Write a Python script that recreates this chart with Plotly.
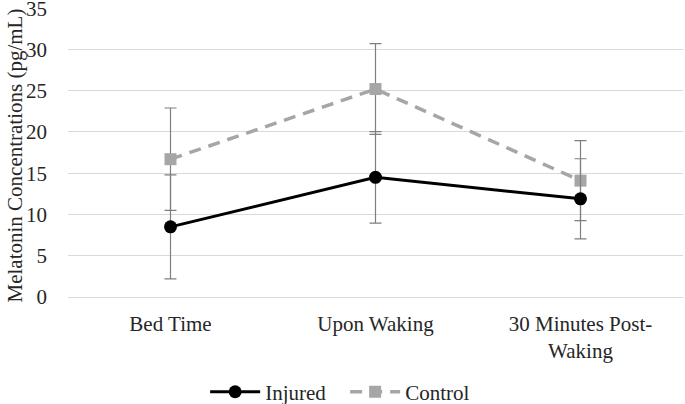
import plotly.graph_objects as go

categories = ["Bed Time", "Upon Waking", "30 Minutes Post-<br>Waking"]
injured = [8.5, 14.5, 11.9]
injured_err = [6.3, 5.55, 4.85]
control = [16.7, 25.2, 14.1]
control_err = [6.2, 5.5, 4.85]
y_ticks = [0, 5, 10, 15, 20, 25, 30, 35]
y_title = "Melatonin Concentrations (pg/mL)"

font_family = "Liberation Serif, Times New Roman, serif"
text_color = "#262626"

fig = go.Figure()
fig.add_trace(go.Scatter(
    x=categories, y=control, name="Control", mode="lines+markers",
    line=dict(color="#A6A6A6", width=3.5, dash="12px,8px"),
    marker=dict(symbol="square", size=12, color="#A6A6A6"),
    error_y=dict(type="data", array=control_err, visible=True,
                 color="#7F7F7F", thickness=1.2, width=6),
    legendrank=2,
))
fig.add_trace(go.Scatter(
    x=categories, y=injured, name="Injured", mode="lines+markers",
    line=dict(color="#000000", width=3),
    marker=dict(symbol="circle", size=13, color="#000000"),
    error_y=dict(type="data", array=injured_err, visible=True,
                 color="#7F7F7F", thickness=1.2, width=6),
    legendrank=1,
))

fig.add_annotation(
    text=y_title, textangle=-90, xref="paper", yref="paper",
    x=-0.086, y=0.49, xanchor="center", yanchor="middle", showarrow=False,
    font=dict(size=21, color=text_color, family=font_family),
)

fig.update_layout(
    width=685, height=404,
    margin=dict(l=68, r=2, t=8, b=107, autoexpand=False),
    paper_bgcolor="white", plot_bgcolor="white",
    font=dict(family=font_family, size=21, color=text_color),
    xaxis=dict(type="category", range=[-0.5, 2.5], showgrid=False,
               showline=False, ticks="", automargin=False,
               ticklabelstandoff=12,
               tickfont=dict(size=21, color=text_color)),
    yaxis=dict(range=[0, 35.02], tickvals=y_ticks, showgrid=True,
               gridcolor="#D9D9D9", gridwidth=1, zeroline=True,
               zerolinecolor="#D9D9D9", zerolinewidth=1, showline=False,
               ticks="", ticklabelstandoff=20, automargin=False,
               ticklabeloverflow="allow",
               tickfont=dict(size=21, color=text_color)),
    legend=dict(orientation="h", x=0.223, xanchor="left", y=-0.329,
                yanchor="middle", font=dict(size=21, color=text_color),
                traceorder="normal", itemwidth=50, entrywidth=75),
    showlegend=True,
)

fig.write_html("out.html",
               config={"displayModeBar": False},
               post_script="document.body.style.margin='0';document.body.style.overflow='hidden';")
